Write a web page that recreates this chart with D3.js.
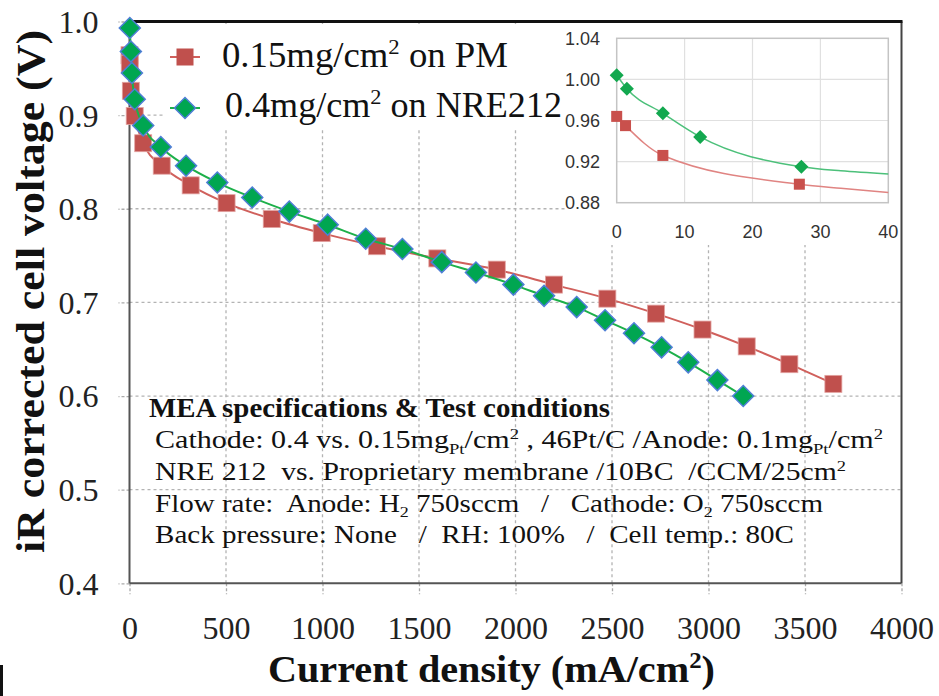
<!DOCTYPE html>
<html><head><meta charset="utf-8">
<script src="https://cdn.jsdelivr.net/npm/d3@7"></script>
<style>body{margin:0;background:#fff}svg{display:block}text{white-space:pre}</style>
</head><body><svg id="c" width="939" height="696"></svg>
<script>
// ---------- data ----------
const xTicks = [0, 500, 1000, 1500, 2000, 2500, 3000, 3500, 4000];
const yTicks = [0.4, 0.5, 0.6, 0.7, 0.8, 0.9, 1.0];
const seriesNames = ["0.15mg/cm", "0.4mg/cm"];
// 0.15mg/cm2 on PM (red squares)
const pmX = [0, 1.3, 6.8, 27, 71, 167, 317, 503, 737, 996, 1282, 1595, 1903, 2199, 2476, 2728, 2969, 3198, 3419, 3647];
const pmV = [0.964, 0.955, 0.926, 0.899, 0.870, 0.846, 0.825, 0.806, 0.789, 0.774, 0.760, 0.747, 0.735, 0.719, 0.704, 0.688, 0.671, 0.653, 0.634, 0.613];
// 0.4mg/cm2 on NRE212 (green diamonds)
const nreX = [1.5, 7, 12.5, 27, 71, 162, 293, 455, 636, 828, 1027, 1224, 1414, 1618, 1795, 1989, 2148, 2317, 2464, 2614, 2757, 2895, 3046, 3180];
const nreV = [0.993, 0.968, 0.945, 0.917, 0.889, 0.866, 0.846, 0.828, 0.812, 0.797, 0.783, 0.768, 0.757, 0.743, 0.732, 0.719, 0.707, 0.695, 0.681, 0.667, 0.652, 0.636, 0.617, 0.600];
// inset (low current zoom)
const insetXTicks = [0, 10, 20, 30, 40];
const insetYTicks = [0.88, 0.92, 0.96, 1.00, 1.04];
const insetNreX = [0, 1.5, 6.8, 12.3, 27.2];
const insetNreV = [1.004, 0.991, 0.967, 0.944, 0.915];
const insetPmX = [0, 1.3, 6.8, 26.9];
const insetPmV = [0.964, 0.955, 0.926, 0.898];
const insetTailX = [33, 40];
const insetTailNre = [0.911, 0.908];
const insetTailPm = [0.894, 0.890];
// texts
const legend1 = [["0.15mg/cm"], ["2", "sup"], [" on PM"]];
const legend2 = [["0.4mg/cm"], ["2", "sup"], [" on NRE212"]];
const noteTitle = "MEA specifications & Test conditions";
const noteLines = [
  [["Cathode: 0.4 vs. 0.15mg"], ["Pt", "sub"], ["/cm"], ["2", "sup"], [" , 46Pt/C /Anode: 0.1mg"], ["Pt", "sub"], ["/cm"], ["2", "sup"]],
  [["NRE 212  vs. Proprietary membrane /10BC  /CCM/25cm"], ["2", "sup"]],
  [["Flow rate:  Anode: H"], ["2", "sub"], [" 750sccm   /   Cathode: O"], ["2", "sub"], [" 750sccm"]],
  [["Back pressure: None   /  RH: 100%   /  Cell temp.: 80C"]]
];
const xTitle = [["Current density (mA/cm"], ["2", "sup"], [")"]];
const yTitle = "iR corrected cell voltage (V)";

// ---------- drawing ----------
const svg = d3.select("#c");
const SERIF = "'Liberation Serif','Times New Roman',serif";
const SANS = "'Liberation Sans',Arial,sans-serif";
const x = d3.scaleLinear().domain([0, 4000]).range([129.5, 901.5]);
const y = d3.scaleLinear().domain([0.4, 1.0]).range([583.3, 21.5]);

function rich(t, segs, fs) {
  let off = 0;
  segs.forEach(([s, k]) => {
    const target = k === "sub" ? fs * 0.22 : k === "sup" ? -fs * 0.38 : 0;
    const ts = t.append("tspan").text(s);
    if (k) ts.attr("font-size", fs * 0.62);
    if (target - off !== 0) ts.attr("dy", target - off);
    off = target;
  });
  return t;
}
const diamond = r => `M0,${-r}L${r},0L0,${r}L${-r},0Z`;

// gridlines
svg.append("g").selectAll("line").data(xTicks.slice(1, -1)).join("line")
  .attr("x1", d => x(d)).attr("x2", d => x(d)).attr("y1", y(0.4)).attr("y2", y(1.0))
  .attr("stroke", "#b3b3b3").attr("stroke-width", 1.3).attr("stroke-dasharray", "3,3");
svg.append("g").selectAll("line").data(yTicks.slice(1, -1)).join("line")
  .attr("y1", d => y(d)).attr("y2", d => y(d)).attr("x1", x(0)).attr("x2", x(4000))
  .attr("stroke", "#b3b3b3").attr("stroke-width", 1.3).attr("stroke-dasharray", "3,3");

// axes
const ax = svg.append("g").attr("transform", `translate(0,${y(0.4)})`)
  .call(d3.axisBottom(x).tickValues(xTicks).tickSize(11).tickPadding(22).tickFormat(d3.format("d")));
const ay = svg.append("g").attr("transform", `translate(${x(0)},0)`)
  .call(d3.axisLeft(y).tickValues(yTicks).tickSize(11).tickPadding(20).tickFormat(d3.format(".1f")));
[ax, ay].forEach(a => {
  a.select(".domain").remove();
  a.selectAll(".tick line").attr("stroke", "#aaa").attr("stroke-width", 1.3).attr("stroke-dasharray", "3,2");
  a.selectAll("text").attr("font-family", SERIF).attr("font-size", 32).attr("fill", "#222");
});
ay.selectAll("text").attr("dy", "0.34em");

// frame
svg.append("line").attr("x1", x(0)).attr("x2", x(0)).attr("y1", y(1.0)).attr("y2", y(0.4)).attr("stroke", "#555").attr("stroke-width", 2);
svg.append("line").attr("x1", x(0)).attr("x2", x(4000)).attr("y1", y(0.4)).attr("y2", y(0.4)).attr("stroke", "#555").attr("stroke-width", 2);

// legend & inset backgrounds
svg.append("rect").attr("x", 163).attr("y", 24).attr("width", 402).attr("height", 106).attr("fill", "#fff");
svg.append("rect").attr("x", 565).attr("y", 23).attr("width", 337).attr("height", 222).attr("fill", "#fff");

svg.append("line").attr("x1", x(4000)).attr("x2", x(4000)).attr("y1", y(1.0)).attr("y2", y(0.4)).attr("stroke", "#444").attr("stroke-width", 2);
svg.append("line").attr("x1", x(0)).attr("x2", x(4000) + 1).attr("y1", y(1.0)).attr("y2", y(1.0)).attr("stroke", "#111").attr("stroke-width", 3);

// series
const pm = pmX.map((d, i) => [d, pmV[i]]);
const nre = nreX.map((d, i) => [d, nreV[i]]);
const line = d3.line().x(d => x(d[0])).y(d => y(d[1])).curve(d3.curveMonotoneX);
svg.append("path").attr("d", line(pm)).attr("fill", "none").attr("stroke", "#d0605c").attr("stroke-width", 2);
svg.append("g").selectAll("rect").data(pm).join("rect")
  .attr("x", d => x(d[0]) - 8.5).attr("y", d => y(d[1]) - 8.5).attr("width", 17).attr("height", 17)
  .attr("fill", "#c0504d").attr("stroke", "#e3a3a1").attr("stroke-width", 0.8);
svg.append("path").attr("d", line(nre)).attr("fill", "none").attr("stroke", "#1db04a").attr("stroke-width", 2);
svg.append("g").selectAll("path").data(nre).join("path")
  .attr("d", diamond(10.5)).attr("transform", d => `translate(${x(d[0])},${y(d[1])})`)
  .attr("fill", "#00a651").attr("stroke", "#4f7fd6").attr("stroke-width", 1.5);

// legend
const lg = [[57, "#d0605c"], [108, "#1db04a"]];
lg.forEach(([ly, c]) => svg.append("line").attr("x1", 170).attr("x2", 200).attr("y1", ly).attr("y2", ly).attr("stroke", c).attr("stroke-width", 2));
svg.append("rect").attr("x", 185 - 8.5).attr("y", 57 - 8.5).attr("width", 17).attr("height", 17).attr("fill", "#c0504d");
svg.append("path").attr("d", diamond(10.5)).attr("transform", "translate(185,108)").attr("fill", "#00a651").attr("stroke", "#4f7fd6").attr("stroke-width", 1.5);
rich(svg.append("text").attr("x", 222).attr("y", 67).attr("font-family", SERIF).attr("font-size", 35).attr("fill", "#111")
  .attr("textLength", 286).attr("lengthAdjust", "spacingAndGlyphs"), legend1, 35);
rich(svg.append("text").attr("x", 225).attr("y", 117).attr("font-family", SERIF).attr("font-size", 35).attr("fill", "#111")
  .attr("textLength", 337).attr("lengthAdjust", "spacingAndGlyphs"), legend2, 35);

// inset
const xi = d3.scaleLinear().domain([0, 40]).range([616.7, 888.3]);
const yi = d3.scaleLinear().domain([0.88, 1.04]).range([202.7, 38.3]);
const ig = svg.append("g");
ig.selectAll("line.h").data(insetYTicks.slice(1, -1)).join("line").attr("class", "h")
  .attr("x1", xi(0)).attr("x2", xi(40)).attr("y1", d => yi(d)).attr("y2", d => yi(d)).attr("stroke", "#e0e0e0").attr("stroke-width", 1.2);
ig.selectAll("line.v").data(insetXTicks.slice(1, -1)).join("line").attr("class", "v")
  .attr("y1", yi(0.88)).attr("y2", yi(1.04)).attr("x1", d => xi(d)).attr("x2", d => xi(d)).attr("stroke", "#e0e0e0").attr("stroke-width", 1.2);
ig.append("rect").attr("x", xi(0)).attr("y", yi(1.04)).attr("width", xi(40) - xi(0)).attr("height", yi(0.88) - yi(1.04))
  .attr("fill", "none").attr("stroke", "#c4c4c4").attr("stroke-width", 1.5);
ig.selectAll("text.y").data(insetYTicks).join("text").attr("class", "y")
  .attr("x", 600).attr("y", d => yi(d)).attr("dy", "0.36em").attr("text-anchor", "end")
  .attr("font-family", SANS).attr("font-size", 18).attr("fill", "#333").text(d => d3.format(".2f")(d));
ig.selectAll("text.x").data(insetXTicks).join("text").attr("class", "x")
  .attr("x", d => xi(d)).attr("y", 238).attr("text-anchor", "middle")
  .attr("font-family", SANS).attr("font-size", 18).attr("fill", "#333").text(d => d);
const iline = d3.line().x(d => xi(d[0])).y(d => yi(d[1])).curve(d3.curveMonotoneX);
const iNre = insetNreX.map((d, i) => [d, insetNreV[i]]);
const iPm = insetPmX.map((d, i) => [d, insetPmV[i]]);
const tNre = insetTailX.map((d, i) => [d, insetTailNre[i]]);
const tPm = insetTailX.map((d, i) => [d, insetTailPm[i]]);
ig.append("path").attr("d", iline(iPm.concat(tPm))).attr("fill", "none").attr("stroke", "#e08482").attr("stroke-width", 1.5);
ig.append("path").attr("d", iline(iNre.concat(tNre))).attr("fill", "none").attr("stroke", "#4cc07a").attr("stroke-width", 1.5);
ig.selectAll("rect.m").data(iPm).join("rect").attr("class", "m")
  .attr("x", d => xi(d[0]) - 5.5).attr("y", d => yi(d[1]) - 5.5).attr("width", 11).attr("height", 11).attr("fill", "#c9504c");
ig.selectAll("path.m").data(iNre).join("path").attr("class", "m")
  .attr("d", diamond(7)).attr("transform", d => `translate(${xi(d[0])},${yi(d[1])})`).attr("fill", "#13a84f");

// spec text block
svg.append("text").attr("x", 149).attr("y", 417).attr("font-family", SERIF).attr("font-weight", "bold")
  .attr("font-size", 27).attr("fill", "#111").attr("textLength", 461).attr("lengthAdjust", "spacingAndGlyphs").text(noteTitle);
const noteBase = [448, 480, 511.7, 543.3];
const noteLen = [728, 691, 668, 639];
noteLines.forEach((segs, i) => {
  rich(svg.append("text").attr("x", 155).attr("y", noteBase[i]).attr("font-family", SERIF).attr("font-size", 25).attr("fill", "#111")
    .attr("textLength", noteLen[i]).attr("lengthAdjust", "spacingAndGlyphs"), segs, 25);
});

// axis titles
rich(svg.append("text").attr("x", 268).attr("y", 682).attr("font-family", SERIF).attr("font-weight", "bold")
  .attr("font-size", 38).attr("fill", "#111").attr("textLength", 447).attr("lengthAdjust", "spacingAndGlyphs"), xTitle, 38);
svg.append("text").attr("transform", "translate(44,553) rotate(-90)").attr("font-family", SERIF).attr("font-weight", "bold")
  .attr("font-size", 40).attr("fill", "#111").attr("textLength", 523).attr("lengthAdjust", "spacingAndGlyphs").text(yTitle);

// crop artifact at lower-left edge
svg.append("line").attr("x1", 1.5).attr("x2", 1.5).attr("y1", 665).attr("y2", 696).attr("stroke", "#111").attr("stroke-width", 3);
</script></body></html>
